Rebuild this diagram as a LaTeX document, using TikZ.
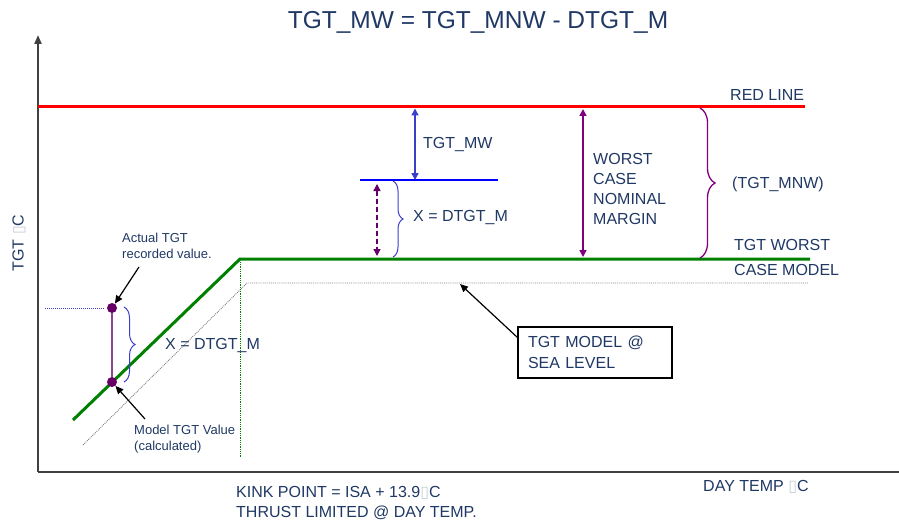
\documentclass[tikz,border=0pt]{standalone}
\usepackage{fontspec}
\setmainfont{Liberation Sans}
\newfontfamily\glyphfont{DejaVu Sans}
\usetikzlibrary{arrows.meta,decorations.pathreplacing}
\definecolor{tgtInk}{RGB}{31,56,100}
\definecolor{tgtRed}{RGB}{255,0,0}
\definecolor{tgtGreen}{RGB}{0,128,0}
\definecolor{tgtBlue}{RGB}{60,60,205}
\definecolor{tgtLine}{RGB}{0,0,255}
\definecolor{tgtPurple}{RGB}{128,0,128}
\definecolor{tgtPlum}{RGB}{102,0,102}
\definecolor{tgtMauve}{RGB}{140,70,140}
\definecolor{tgtAxis}{RGB}{64,64,64}
\definecolor{tgtGhost}{RGB}{200,205,212}
\newcommand\degbox{{\glyphfont\color{tgtGhost}\char"25AF}}

\begin{document}
\begin{tikzpicture}[x=1pt,y=-1pt]
\tikzset{
txt/.style={font=\fontsize{16}{20}\selectfont,text=tgtInk,anchor=west,inner sep=0pt,align=left},
small/.style={font=\fontsize{13}{16.5}\selectfont,text=tgtInk,anchor=west,inner sep=0pt,align=left},
dim/.style={line width=1.5pt,{Triangle[length=7pt,width=7pt]}-{Triangle[length=7pt,width=7pt]}},
pointer/.style={line width=1.2pt,-{Triangle[length=8pt,width=7pt]}},
dot/.style={circle,fill=tgtPlum,inner sep=0pt,minimum size=10pt},
curly/.style={decorate,decoration={brace,amplitude=#1}}
}
\useasboundingbox (0,0) rectangle (899,524);
% axes
\coordinate (origin) at (38,472);
\coordinate (ytop) at (38,35);
\coordinate (xend) at (899,472);
\draw[tgtAxis,line width=2pt,-{Triangle[length=9pt,width=7pt]}] (origin) -- (ytop);
\draw[tgtAxis,line width=2pt] (origin) -- (xend);
\node[font=\fontsize{24.5}{28}\selectfont,text=tgtInk] (title) at (478,22) {TGT\_MW = TGT\_MNW - DTGT\_M};
\node[txt,anchor=center,rotate=90] (ylab) at (19,243) {TGT \degbox C};
\node[txt] (xlab) at (703,487) {DAY TEMP \degbox C};
% limit and model lines
\coordinate (redA) at (38,107);
\coordinate (redB) at (805,107);
\draw[tgtRed,line width=3pt] (redA) -- (redB);
\node[txt] (redlab) at (730,95) {RED LINE};
\coordinate (wcA) at (73,420);
\coordinate (kink) at (240,259);
\coordinate (wcB) at (810,259);
\draw[tgtGreen,line width=3pt] (wcA) -- (kink) -- (wcB);
\node[txt] (wclab1) at (734,245) {TGT WORST};
\node[txt] (wclab2) at (734,270) {CASE MODEL};
\coordinate (slA) at (83,445);
\coordinate (slK) at (247,283);
\coordinate (slB) at (808,283);
\draw[gray,densely dotted,line width=.9pt] (slA) -- (slK) -- (slB);
\coordinate (kinkTop) at (240,262);
\coordinate (kinkBot) at (240,458);
\draw[tgtGreen,densely dotted,line width=.8pt] (kinkTop) -- (kinkBot);
\node[txt,align=left] (kinklab) at (236,503) {KINK POINT = ISA + 13.9\degbox C\\THRUST LIMITED @ DAY TEMP.};
% measured level and margins
\coordinate (mwA) at (360,180);
\coordinate (mwB) at (498,180);
\draw[tgtLine,line width=1.4pt] (mwA) -- (mwB);
\coordinate (mwTop) at (415,108.5);
\coordinate (mwBot) at (415,180);
\draw[dim,tgtBlue] (mwTop) -- (mwBot);
\node[txt] (mwlab) at (423,145) {TGT\_MW};
\coordinate (dxTop) at (377,184);
\coordinate (dxBot) at (377,256);
\draw[dim,tgtPlum,dash pattern=on 5pt off 3pt,line width=1.3pt] (dxTop) -- (dxBot);
\coordinate (brTop) at (393,181);
\coordinate (brBot) at (393,257);
\draw[curly=10pt,tgtBlue,line width=1pt] (brTop) -- (brBot);
\node[txt] (dxlab) at (413,218) {X = DTGT\_M};
\coordinate (wnTop) at (583,109);
\coordinate (wnBot) at (583,257);
\draw[dim,tgtPurple] (wnTop) -- (wnBot);
\node[txt] (wnlab) at (593,189) {WORST\\CASE\\NOMINAL\\MARGIN};
\coordinate (mnTop) at (700,108);
\coordinate (mnBot) at (700,258);
\draw[curly=15pt,tgtPurple,line width=1.3pt] (mnTop) -- (mnBot);
\node[txt] (mnlab) at (732,184) {(TGT\_MNW)};
% recorded vs model point
\coordinate (recA) at (45,308);
\coordinate (recB) at (104,308);
\draw[tgtBlue,densely dotted,line width=1pt] (recA) -- (recB);
\node[dot] (actual) at (112,308) {};
\node[dot] (model) at (112,382) {};
\draw[tgtMauve,line width=1.4pt] (actual) -- (model);
\coordinate (lbTop) at (124,307);
\coordinate (lbBot) at (124,382);
\draw[curly=11pt,tgtBlue,line width=1pt] (lbTop) -- (lbBot);
\node[txt] (lxlab) at (165,346) {X = DTGT\_M};
\node[small] (actlab) at (122,246) {Actual TGT\\recorded value.};
\node[small] (modlab) at (134,439) {Model TGT Value\\(calculated)};
\coordinate (actTail) at (139,267);
\draw[pointer] (actTail) -- (actual);
\coordinate (modTail) at (145,419);
\draw[pointer] (modTail) -- (model);
% sea level call-out
\node[draw,line width=1.2pt,text width=134pt,inner xsep=10pt,minimum height=51pt,
  font=\fontsize{16}{21}\selectfont,text=tgtInk,align=left] (seabox) at (595,352.5) {TGT MODEL @\\SEA LEVEL};
\coordinate (seaHit) at (460,284);
\draw[pointer] (seabox.169) -- (seaHit);
\end{tikzpicture}
\end{document}
